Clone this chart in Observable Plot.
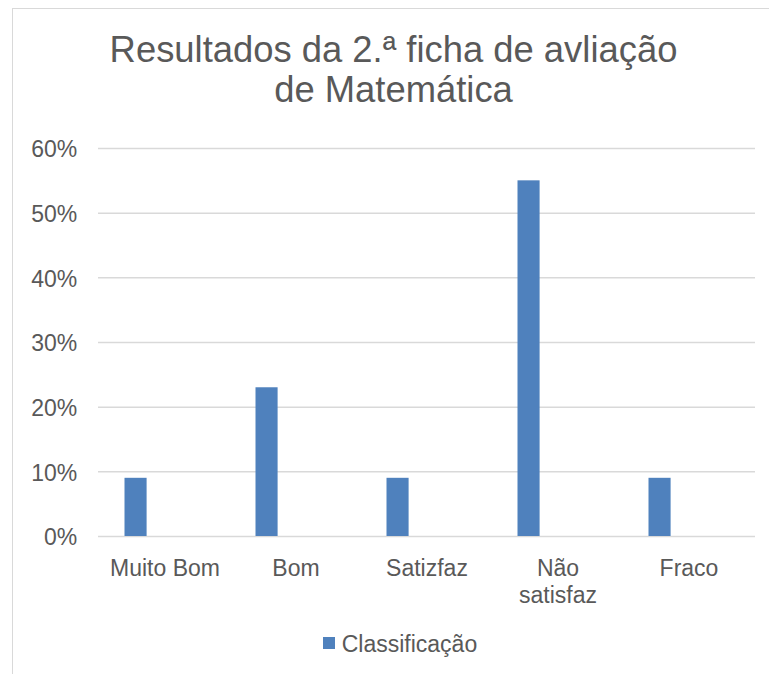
<!DOCTYPE html>
<html>
<head>
<meta charset="utf-8">
<script src="https://cdn.jsdelivr.net/npm/d3@7"></script>
<script src="https://cdn.jsdelivr.net/npm/@observablehq/plot@0.6"></script>
<style>
  html, body { margin: 0; padding: 0; background: #fff; overflow: hidden; }
  #wrap { position: relative; width: 769px; height: 674px; overflow: hidden;
          font-family: "Liberation Sans", Arial, sans-serif; color: #595959; }
  #frame { position: absolute; left: 12px; top: 8px; right: 0; bottom: 0;
           border-left: 1.5px solid #d9d9d9; border-top: 1.5px solid #d9d9d9; }
  #title { position: absolute; left: 0; top: 30px; width: 787px; text-align: center;
           font-size: 36.4px; line-height: 40px; }
  #chart { position: absolute; left: 0; top: 0; }
  #legend { position: absolute; left: 323px; top: 633px; font-size: 23px; line-height: 23px; white-space: nowrap; }
  #legend .swatch { position: absolute; left: 0; top: 4px; width: 12px; height: 12px; }
  #legend .label { position: absolute; left: 18.7px; top: 0; }
</style>
</head>
<body>
<div id="wrap">
  <div id="frame"></div>
  <div id="chart"></div>
  <div id="title"></div>
  <div id="legend"><span class="swatch"></span><span class="label"></span></div>
</div>
<script>
// Chart text and values
const titleLines = ["Resultados da 2.ª ficha de avliação", "de Matemática"];
const seriesName = "Classificação";
const categories = ["Muito Bom", "Bom", "Satizfaz", "Não satisfaz", "Fraco"];
const tickLabels = ["Muito Bom", "Bom", "Satizfaz", "Não\nsatisfaz", "Fraco"];
const values = [0.09, 0.23, 0.09, 0.55, 0.09];
const yTicks = [0, 0.1, 0.2, 0.3, 0.4, 0.5, 0.6];

const barColor = "#4f81bd";
const gridColor = "#d9d9d9";
const textColor = "#595959";

const data = categories.map((c, i) => ({category: c, value: values[i]}));

const chart = Plot.plot({
  width: 769,
  height: 620,
  marginLeft: 98,
  marginRight: 14,
  marginTop: 148,
  marginBottom: 84,
  style: {
    fontFamily: "'Liberation Sans', Arial, sans-serif",
    fontSize: "23px",
    color: textColor,
    background: "transparent",
    overflow: "visible"
  },
  x: {domain: categories, padding: 0, label: null},
  y: {domain: [0, 0.6], label: null},
  marks: [
    Plot.ruleY(yTicks, {stroke: gridColor, strokeWidth: 1.5}),
    Plot.barY(data, {x: "category", y: "value", fill: barColor, insetLeft: 25.5, insetRight: 83.4}),
    Plot.axisY({
      ticks: yTicks,
      tickFormat: d => Math.round(d * 100) + "%",
      tickSize: 0,
      tickPadding: 21.3,
      dy: 1.5,
      fontSize: 23,
      color: textColor
    }),
    Plot.axisX({
      tickSize: 0,
      tickPadding: 20.4,
      tickFormat: d => tickLabels[categories.indexOf(d)],
      lineHeight: 1.17,
      fontSize: 23,
      color: textColor
    })
  ]
});
document.getElementById("chart").appendChild(chart);

document.getElementById("title").innerHTML = titleLines.join("<br>");
document.querySelector("#legend .swatch").style.background = barColor;
document.querySelector("#legend .label").textContent = seriesName;
</script>
</body>
</html>
